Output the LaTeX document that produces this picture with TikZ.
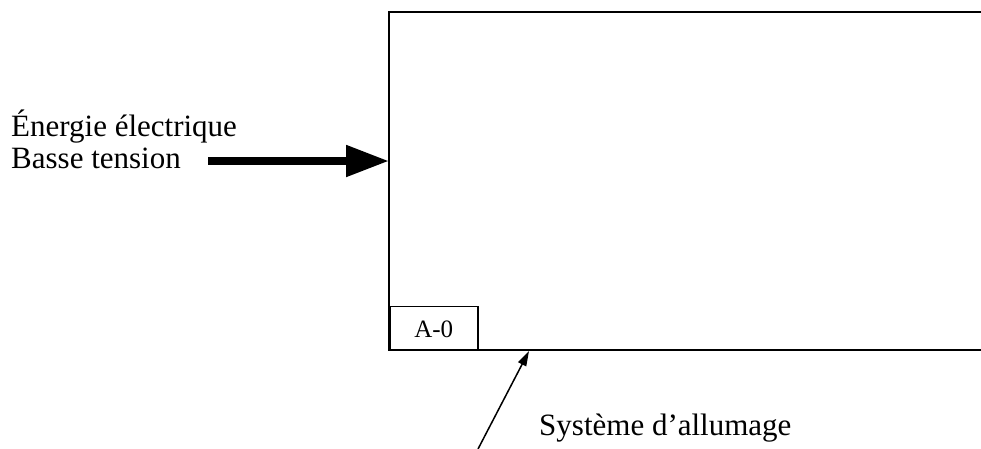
\documentclass[tikz,border=0pt]{standalone}
\usepackage{fontspec}
\setmainfont{Liberation Serif}
\usetikzlibrary{arrows.meta}
\begin{document}
\begin{tikzpicture}[x=1pt,y=-1pt,
  lbl/.style={font=\fontsize{31}{36}\selectfont, inner sep=0pt, anchor=base west},
  frame/.style={draw, line width=1.8pt},
  thin/.style={line width=1.5pt}]
\useasboundingbox (0,0) rectangle (981,448);
\draw[frame] (990,12) -- (389,12) -- (389,350) -- (990,350);
\coordinate (boxW) at (389,161);
\coordinate (boxB) at (529,351);
\node[draw, thin, minimum width=88pt, minimum height=43pt, anchor=south west, inner sep=0pt, text depth=0pt, font=\fontsize{25}{29}\selectfont] (a0) at (389,350) {\raisebox{-2pt}{A-0}};
\node[lbl] (l1) at (11,136) {Énergie électrique};
\node[lbl] (l2) at (11,168) {Basse tension};
\coordinate (arrS) at (208,161);
\draw[line width=8pt, -{Triangle[length=43pt,width=30pt]}] (arrS) -- (boxW);
\node[lbl] (sys) at (539,435) {Système d’allumage};
\coordinate (sysS) at (478,449);
\draw[line width=1.5pt, -{Triangle[length=15pt,width=9pt]}] (sysS) -- (boxB);
\end{tikzpicture}
\end{document}
